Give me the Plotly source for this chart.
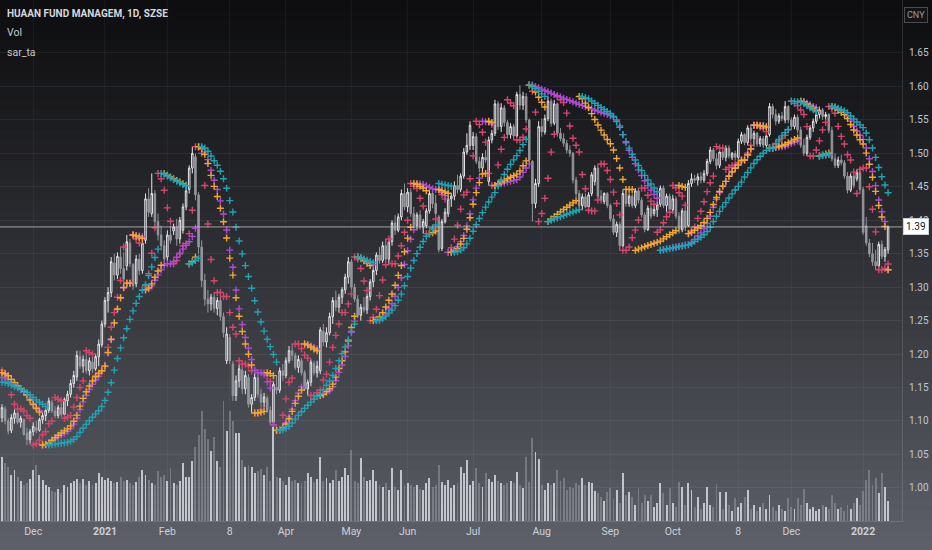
import plotly.graph_objects as go

# ---------------- data ----------------
open_ = [
 1.105,1.118,1.100,1.086,1.104,1.112,1.098,1.102,1.082,1.072,
 1.084,1.090,1.086,1.102,1.108,1.116,1.128,1.115,1.108,1.120,
 1.110,1.130,1.140,1.156,1.166,1.196,1.182,1.192,1.175,1.188,
 1.178,1.196,1.214,1.245,1.280,1.292,1.336,1.318,1.345,1.328,
 1.332,1.366,1.334,1.305,1.342,1.325,1.370,1.432,1.410,1.440,
 1.398,1.378,1.362,1.345,1.378,1.384,1.390,1.372,1.385,1.420,
 1.446,1.478,1.495,1.438,1.360,1.310,1.282,1.275,1.285,1.268,
 1.280,1.256,1.190,1.225,1.185,1.138,1.160,1.176,1.148,1.165,
 1.125,1.135,1.165,1.140,1.128,1.134,1.116,1.098,1.150,1.146,
 1.175,1.168,1.190,1.205,1.198,1.180,1.190,1.172,1.148,1.158,
 1.186,1.172,1.175,1.234,1.218,1.232,1.256,1.280,1.270,1.285,
 1.296,1.315,1.338,1.300,1.282,1.258,1.270,1.266,1.286,1.308,
 1.325,1.348,1.340,1.362,1.342,1.368,1.396,1.385,1.405,1.440,
 1.420,1.442,1.410,1.392,1.408,1.390,1.392,1.414,1.440,1.425,
 1.405,1.358,1.398,1.410,1.432,1.436,1.452,1.446,1.466,1.502,
 1.512,1.512,1.525,1.488,1.478,1.494,1.458,1.520,1.530,1.574,
 1.540,1.568,1.546,1.528,1.540,1.526,1.588,1.572,1.585,1.550,
 1.488,1.425,1.455,1.540,1.532,1.552,1.578,1.545,1.574,1.530,
 1.522,1.515,1.505,1.500,1.460,1.440,1.422,1.435,1.420,1.440,
 1.458,1.478,1.436,1.428,1.440,1.422,1.402,1.382,1.394,1.362,
 1.440,1.425,1.436,1.422,1.444,1.430,1.408,1.386,1.418,1.410,
 1.416,1.424,1.448,1.422,1.436,1.416,1.432,1.406,1.386,1.414,
 1.392,1.455,1.462,1.460,1.465,1.460,1.470,1.488,1.505,1.492,
 1.482,1.502,1.494,1.508,1.494,1.500,1.494,1.518,1.528,1.516,
 1.538,1.522,1.530,1.514,1.522,1.512,1.528,1.570,1.558,1.548,
 1.556,1.550,1.570,1.550,1.540,1.554,1.535,1.512,1.500,1.524,
 1.538,1.548,1.558,1.565,1.555,1.558,1.534,1.492,1.482,1.490,
 1.486,1.466,1.445,1.466,1.462,1.472,1.446,1.392,1.366,1.350,
 1.338,1.332,1.364,1.346,1.356]

high = [
 1.125,1.122,1.104,1.110,1.118,1.115,1.108,1.104,1.090,1.088,
 1.098,1.100,1.105,1.112,1.120,1.135,1.132,1.122,1.124,1.126,
 1.135,1.145,1.162,1.175,1.205,1.205,1.198,1.200,1.195,1.196,
 1.200,1.222,1.250,1.285,1.300,1.345,1.350,1.352,1.360,1.352,
 1.378,1.372,1.336,1.348,1.350,1.372,1.440,1.448,1.470,1.445,
 1.410,1.392,1.370,1.385,1.392,1.395,1.402,1.405,1.425,1.448,
 1.482,1.510,1.500,1.442,1.370,1.320,1.296,1.290,1.292,1.285,
 1.286,1.262,1.240,1.230,1.190,1.168,1.185,1.182,1.175,1.170,
 1.140,1.172,1.170,1.148,1.142,1.138,1.122,1.160,1.168,1.180,
 1.185,1.195,1.212,1.215,1.202,1.198,1.194,1.176,1.162,1.192,
 1.190,1.190,1.240,1.245,1.240,1.262,1.285,1.295,1.290,1.300,
 1.320,1.345,1.342,1.305,1.288,1.275,1.285,1.290,1.312,1.330,
 1.352,1.360,1.368,1.372,1.372,1.400,1.408,1.410,1.446,1.455,
 1.448,1.448,1.420,1.412,1.415,1.402,1.418,1.445,1.446,1.438,
 1.408,1.402,1.418,1.438,1.440,1.458,1.468,1.470,1.508,1.530,
 1.548,1.532,1.530,1.495,1.500,1.505,1.525,1.535,1.580,1.578,
 1.575,1.572,1.550,1.545,1.544,1.592,1.602,1.592,1.590,1.552,
 1.490,1.462,1.548,1.552,1.558,1.585,1.582,1.580,1.576,1.538,
 1.530,1.520,1.512,1.502,1.465,1.445,1.440,1.440,1.442,1.472,
 1.482,1.484,1.445,1.442,1.442,1.425,1.408,1.398,1.398,1.445,
 1.446,1.440,1.440,1.448,1.448,1.434,1.412,1.422,1.424,1.422,
 1.428,1.452,1.452,1.440,1.440,1.438,1.436,1.412,1.418,1.418,
 1.460,1.470,1.468,1.470,1.472,1.475,1.492,1.510,1.508,1.500,
 1.508,1.505,1.512,1.512,1.502,1.504,1.522,1.532,1.530,1.542,
 1.542,1.534,1.532,1.526,1.526,1.530,1.575,1.574,1.566,1.560,
 1.562,1.578,1.572,1.554,1.558,1.558,1.540,1.522,1.528,1.542,
 1.552,1.562,1.570,1.568,1.562,1.560,1.540,1.500,1.495,1.498,
 1.490,1.472,1.470,1.468,1.476,1.478,1.450,1.405,1.372,1.366,
 1.356,1.368,1.370,1.360,1.392]

low = [
 1.098,1.095,1.080,1.082,1.096,1.095,1.090,1.078,1.064,1.066,
 1.078,1.082,1.084,1.096,1.100,1.112,1.112,1.104,1.104,1.106,
 1.108,1.122,1.135,1.150,1.160,1.178,1.172,1.170,1.168,1.172,
 1.175,1.182,1.210,1.240,1.262,1.285,1.310,1.312,1.320,1.306,
 1.325,1.330,1.296,1.300,1.318,1.320,1.365,1.405,1.405,1.392,
 1.370,1.355,1.335,1.338,1.365,1.378,1.362,1.365,1.380,1.415,
 1.440,1.470,1.430,1.350,1.300,1.272,1.262,1.265,1.262,1.258,
 1.250,1.225,1.185,1.185,1.130,1.130,1.150,1.140,1.140,1.120,
 1.112,1.130,1.135,1.122,1.120,1.112,1.094,1.086,1.140,1.142,
 1.160,1.164,1.186,1.190,1.176,1.172,1.168,1.145,1.138,1.152,
 1.168,1.165,1.170,1.212,1.210,1.228,1.245,1.264,1.262,1.275,
 1.290,1.305,1.296,1.278,1.254,1.250,1.262,1.260,1.280,1.300,
 1.318,1.335,1.336,1.338,1.335,1.362,1.378,1.382,1.400,1.415,
 1.412,1.405,1.388,1.385,1.386,1.380,1.388,1.410,1.418,1.405,
 1.352,1.354,1.395,1.405,1.420,1.430,1.440,1.442,1.462,1.498,
 1.505,1.505,1.484,1.472,1.470,1.486,1.452,1.515,1.526,1.535,
 1.532,1.540,1.522,1.522,1.520,1.524,1.565,1.565,1.545,1.486,
 1.398,1.418,1.450,1.525,1.528,1.548,1.540,1.542,1.525,1.518,
 1.510,1.500,1.495,1.455,1.435,1.418,1.415,1.418,1.414,1.436,
 1.452,1.432,1.425,1.424,1.418,1.398,1.378,1.375,1.355,1.360,
 1.420,1.420,1.418,1.418,1.425,1.404,1.382,1.384,1.402,1.406,
 1.405,1.420,1.418,1.412,1.412,1.410,1.402,1.380,1.382,1.384,
 1.390,1.450,1.456,1.452,1.455,1.456,1.466,1.484,1.488,1.476,
 1.478,1.490,1.488,1.492,1.490,1.490,1.490,1.514,1.512,1.512,
 1.518,1.510,1.510,1.510,1.508,1.508,1.525,1.552,1.542,1.544,
 1.548,1.545,1.545,1.536,1.536,1.530,1.508,1.496,1.496,1.520,
 1.532,1.544,1.552,1.550,1.550,1.530,1.488,1.478,1.478,1.482,
 1.462,1.440,1.442,1.448,1.458,1.440,1.378,1.362,1.345,1.332,
 1.326,1.328,1.342,1.338,1.350]

close = [
 1.120,1.100,1.085,1.105,1.112,1.098,1.104,1.080,1.072,1.084,
 1.092,1.086,1.102,1.108,1.116,1.130,1.115,1.108,1.120,1.110,
 1.132,1.140,1.156,1.168,1.198,1.182,1.192,1.175,1.190,1.178,
 1.196,1.215,1.245,1.280,1.292,1.338,1.318,1.346,1.328,1.312,
 1.368,1.335,1.302,1.342,1.325,1.366,1.432,1.412,1.440,1.398,
 1.378,1.362,1.342,1.378,1.370,1.390,1.372,1.400,1.420,1.444,
 1.478,1.500,1.438,1.360,1.310,1.282,1.275,1.285,1.268,1.280,
 1.256,1.232,1.230,1.190,1.138,1.160,1.178,1.148,1.168,1.125,
 1.135,1.165,1.140,1.128,1.136,1.116,1.098,1.155,1.146,1.175,
 1.168,1.190,1.205,1.198,1.180,1.192,1.172,1.148,1.158,1.188,
 1.172,1.182,1.236,1.218,1.232,1.256,1.280,1.270,1.285,1.296,
 1.315,1.338,1.300,1.282,1.258,1.270,1.266,1.286,1.308,1.325,
 1.348,1.340,1.362,1.342,1.368,1.396,1.385,1.405,1.440,1.420,
 1.442,1.410,1.392,1.408,1.390,1.398,1.414,1.440,1.425,1.410,
 1.356,1.398,1.412,1.432,1.436,1.452,1.446,1.466,1.502,1.512,
 1.542,1.525,1.488,1.478,1.494,1.490,1.520,1.530,1.574,1.540,
 1.568,1.546,1.528,1.540,1.526,1.588,1.572,1.585,1.550,1.490,
 1.425,1.455,1.540,1.532,1.552,1.578,1.545,1.574,1.530,1.522,
 1.515,1.505,1.500,1.460,1.440,1.422,1.435,1.420,1.438,1.468,
 1.478,1.436,1.430,1.440,1.422,1.402,1.382,1.394,1.362,1.440,
 1.425,1.436,1.422,1.444,1.430,1.408,1.386,1.418,1.406,1.416,
 1.424,1.448,1.422,1.436,1.416,1.432,1.406,1.386,1.414,1.390,
 1.455,1.462,1.460,1.465,1.460,1.470,1.488,1.505,1.492,1.482,
 1.502,1.494,1.508,1.496,1.500,1.494,1.518,1.528,1.516,1.538,
 1.522,1.530,1.514,1.522,1.512,1.526,1.570,1.558,1.548,1.556,
 1.552,1.570,1.550,1.540,1.554,1.535,1.512,1.500,1.524,1.538,
 1.548,1.558,1.565,1.555,1.558,1.534,1.492,1.482,1.490,1.486,
 1.466,1.445,1.466,1.452,1.472,1.446,1.382,1.366,1.350,1.338,
 1.332,1.364,1.346,1.356,1.390]

# volume (millions of shares)
volume = [
 6.4,5.8,5.4,4.6,5.1,4.4,4.0,3.6,3.8,4.2,
 5.1,5.6,4.6,4.1,3.6,3.4,3.0,2.9,3.2,2.8,
 3.6,3.4,3.8,4.0,4.2,3.8,4.2,3.6,4.0,3.6,
 3.8,4.8,4.4,4.1,4.3,4.0,3.8,3.9,4.4,4.0,
 4.1,3.8,3.6,3.9,4.4,5.1,4.6,4.1,3.8,3.6,
 5.0,4.4,4.6,4.0,5.3,3.8,3.6,4.0,5.8,4.4,
 4.4,6.0,7.4,8.6,11.0,9.2,8.2,7.0,8.4,6.0,
 5.4,12.0,9.0,11.0,10.0,8.8,8.8,6.1,5.4,5.6,
 5.4,4.8,5.0,5.2,4.6,5.4,4.0,9.4,4.4,4.3,
 4.0,3.6,4.4,4.0,4.1,3.8,3.8,4.0,4.8,4.4,
 3.9,4.2,6.4,4.0,4.3,3.8,4.1,5.1,4.0,4.4,
 5.3,4.6,7.1,4.0,3.8,6.3,4.4,4.0,4.1,5.1,
 4.0,3.6,3.4,3.8,3.1,5.3,3.4,3.1,5.1,3.6,
 3.8,3.6,3.4,3.6,3.2,3.1,3.8,4.3,3.4,3.6,
 5.6,3.9,3.6,4.1,3.3,3.6,3.8,5.4,4.8,6.1,
 3.6,4.0,5.3,3.8,3.4,4.8,4.2,3.9,4.6,4.0,
 3.8,3.6,3.8,4.0,3.8,4.9,3.6,3.3,6.4,3.9,
 8.3,6.9,6.2,3.6,3.1,3.8,3.6,3.8,5.1,4.0,
 4.3,3.1,3.4,3.3,3.8,3.6,4.3,3.6,3.9,3.8,
 3.0,2.8,2.4,2.0,2.9,3.3,2.2,3.1,1.8,4.8,
 2.6,2.9,2.4,1.6,3.3,1.8,2.6,2.0,2.6,1.4,
 1.8,3.8,2.8,1.6,3.3,1.8,1.4,3.9,3.4,1.6,
 3.8,3.1,1.4,2.4,1.2,1.8,3.4,1.6,1.4,3.7,
 2.9,1.2,2.9,1.6,1.0,2.3,1.4,1.8,2.4,3.1,
 1.2,1.6,1.0,1.4,1.8,1.2,2.6,1.4,1.0,1.6,
 1.2,1.0,2.3,1.4,1.2,2.3,1.6,3.2,1.8,1.2,
 1.4,1.0,1.2,1.6,1.4,1.2,2.6,1.8,1.2,1.4,
 1.0,1.6,1.2,1.8,2.3,1.6,3.0,4.1,5.1,3.6,
 4.3,2.8,4.8,3.4,2.0]

# trading-day index of each time-axis label
tick_index = [10, 33, 53, 73, 91, 112, 130, 151, 173, 195, 215, 236, 253, 276]
tick_text = ["Dec", "<b>2021</b>", "Feb", "8", "Apr", "May", "Jun", "Jul",
             "Aug", "Sep", "Oct", "8", "Dec", "<b>2022</b>"]
price_ticks = [1.00, 1.05, 1.10, 1.15, 1.20, 1.25, 1.30, 1.35, 1.40,
               1.45, 1.50, 1.55, 1.60, 1.65]

# sar_ta: parabolic SAR settings (start, increment, maximum) and opening value
sar_settings = {
    "sar_fast": (0.08, 0.08, 0.40, 1.176),
    "sar_mid2": (0.01, 0.02, 0.20, 1.165),
    "sar_mid": (0.02, 0.02, 0.20, 1.172),
    "sar_slow": (0.01, 0.01, 0.10, 1.158),
}

title_text = "HUAAN FUND MANAGEM, 1D, SZSE"
currency = "CNY"

# ---------------- indicator ----------------
def psar(hi, lo, start, inc, amax, sar0):
    out = [sar0]
    trend, sar, ep, af = -1, sar0, lo[0], start
    for i in range(1, len(hi)):
        s = sar + af * (ep - sar)
        if trend == 1:
            s = min(s, lo[i - 1], lo[i - 2] if i > 1 else lo[i - 1])
            if lo[i] < s:
                trend, s, ep, af = -1, ep, lo[i], start
            elif hi[i] > ep:
                ep, af = hi[i], min(af + inc, amax)
        else:
            s = max(s, hi[i - 1], hi[i - 2] if i > 1 else hi[i - 1])
            if hi[i] > s:
                trend, s, ep, af = 1, ep, hi[i], start
            elif lo[i] < ep:
                ep, af = lo[i], min(af + inc, amax)
        out.append(s)
        sar = s
    return out

n = len(close)
x = list(range(n))

FONT = "Roboto, Lato, Liberation Sans, sans-serif"
W, H = 932, 550
ML, MR, MT, MB = 0, 30, 0, 29
PW, PH = W - ML - MR, H - MT - MB

fig = go.Figure()

# volume
vol_colors = ["rgba(214,216,222,0.85)" if c >= o else "rgba(150,153,162,0.55)"
              for o, c in zip(open_, close)]
fig.add_trace(go.Bar(x=x, y=volume, yaxis="y2", marker=dict(color=vol_colors, line_width=0),
                     width=0.62, showlegend=False, hoverinfo="skip"))

# candles
fig.add_trace(go.Candlestick(
    x=x, open=open_, high=high, low=low, close=close,
    increasing=dict(line=dict(color="#e6e6ea", width=1), fillcolor="rgba(0,0,0,0)"),
    decreasing=dict(line=dict(color="#94969c", width=1), fillcolor="#94969c"),
    whiskerwidth=0, showlegend=False, hoverinfo="skip"))

# SAR crosses
sar_colors = {"sar_fast": "#d9446b", "sar_mid2": "#b04ad6", "sar_mid": "#f2a62e", "sar_slow": "#1fa3b6"}
for name in ["sar_fast", "sar_mid2", "sar_mid", "sar_slow"]:
    st, inc, mx, s0 = sar_settings[name]
    vals = psar(high, low, st, inc, mx, s0)
    fig.add_trace(go.Scatter(
        x=x, y=vals, mode="markers", showlegend=False, hoverinfo="skip",
        marker=dict(symbol="cross-thin", size=5, color=sar_colors[name],
                    line=dict(width=1.4, color=sar_colors[name]))))

# background gradient (styling only)
shapes = []
top = (14, 14, 16)
bot = (94, 97, 106)
band = 10
for k in range(0, H, band):
    t = ((k + band / 2) / H) ** 1.15
    col = "rgb(%d,%d,%d)" % tuple(round(a + (b - a) * t) for a, b in zip(top, bot))
    y0 = (PH - (k + band)) / PH
    y1 = (PH - k) / PH
    shapes.append(dict(type="rect", xref="paper", yref="paper", x0=-0.01, x1=W / PW + 0.01,
                       y0=y0, y1=y1 + 0.0005, fillcolor=col, line_width=0, layer="below"))
# last price line
shapes.append(dict(type="line", xref="paper", yref="y", x0=0, x1=1, y0=close[-1], y1=close[-1],
                   line=dict(color="rgba(200,202,208,0.75)", width=1), layer="above"))

annotations = [
    dict(text="<b>" + title_text + "</b>", xref="paper", yref="paper", x=5 / PW, y=1 - 14 / PH,
         xanchor="left", yanchor="middle", showarrow=False,
         font=dict(family=FONT, size=10, color="#d6d8de")),
    dict(text="Vol", xref="paper", yref="paper", x=5 / PW, y=1 - 33 / PH,
         xanchor="left", yanchor="middle", showarrow=False,
         font=dict(family=FONT, size=10.5, color="#c6c8ce")),
    dict(text="sar_ta", xref="paper", yref="paper", x=5 / PW, y=1 - 52 / PH,
         xanchor="left", yanchor="middle", showarrow=False,
         font=dict(family=FONT, size=10.5, color="#c6c8ce")),
    dict(text=currency, xref="paper", yref="paper", x=(916 - ML) / PW, y=1 - 15 / PH,
         xanchor="center", yanchor="middle", showarrow=False,
         font=dict(family=FONT, size=9, color="#9a9ca6"),
         bgcolor="#141416", bordercolor="#4a4c54", borderwidth=1, borderpad=2),
    dict(text="%.2f" % close[-1], xref="paper", yref="y", x=1.0, y=close[-1],
         xanchor="left", yanchor="middle", showarrow=False, xshift=1,
         font=dict(family=FONT, size=10, color="#131722"),
         bgcolor="#ffffff", bordercolor="#cfd1d6", borderwidth=1, borderpad=2),
]

fig.update_layout(
    width=W, height=H, margin=dict(l=ML, r=MR, t=MT, b=MB),
    paper_bgcolor="rgb(94,97,106)", plot_bgcolor="rgba(0,0,0,0)",
    shapes=shapes, annotations=annotations, bargap=0,
    xaxis=dict(range=[-0.64, 288.46], tickmode="array", tickvals=tick_index, ticktext=tick_text,
               showgrid=True, gridcolor="rgba(255,255,255,0.045)", gridwidth=1,
               zeroline=False, showline=True, linecolor="rgba(255,255,255,0.12)",
               ticks="", rangeslider=dict(visible=False), fixedrange=True,
               tickfont=dict(family=FONT, size=10.5, color="#cdd0d6")),
    yaxis=dict(side="right", range=[0.9505, 1.7292], tickmode="array", tickvals=price_ticks,
               ticktext=["%.2f" % v for v in price_ticks],
               showgrid=True, gridcolor="rgba(255,255,255,0.06)", gridwidth=1,
               zeroline=False, showline=True, linecolor="rgba(255,255,255,0.12)",
               ticks="", ticklabelstandoff=4,
               tickfont=dict(family=FONT, size=10, color="#c4c6cd")),
    yaxis2=dict(overlaying="y", range=[0, PH / 10], visible=False, fixedrange=True),
    font=dict(family=FONT),
)

fig.write_html("out.html", config={"displayModeBar": False, "staticPlot": True},
               post_script="document.body.style.margin='0';document.body.style.overflow='hidden';")
